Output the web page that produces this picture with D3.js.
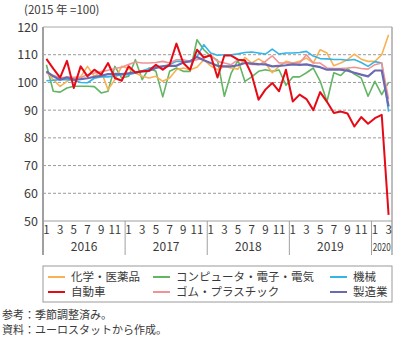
<!DOCTYPE html>
<html><head><meta charset="utf-8">
<script src="https://cdn.jsdelivr.net/npm/d3@7"></script>
<style>
html,body{margin:0;padding:0;background:#fff;}
svg{display:block;font-family:"Noto Sans CJK JP","Noto Sans",sans-serif;}
</style></head>
<body>
<svg id="c" width="402" height="340"></svg>
<script>
// ---- data ----
const years = ["2016","2017","2018","2019","2020"];
const monthsPerYear = [12,12,12,12,3];
const monthTicks = ["1","3","5","7","9","11"];
const yTicks = [50,60,70,80,90,100,110,120];
const seriesNames = ["化学・医薬品","コンピュータ・電子・電気","機械","自動車","ゴム・プラスチック","製造業"];

const chem = [104,101,98.6,100.4,101.8,102,105.8,102.2,104,97.4,101,105.8,
  105,103.4,102.2,101.6,102.2,100.4,101.6,104.6,105.2,104.6,105.5,108.2,
  106,104.6,105.8,105.2,104.8,109,107,108.5,107,103.5,105.8,107.6,
  107,107.6,108.8,107,111.8,110.6,106,107,108.2,110.2,108.4,107.6,
  107.6,110,117.2];
const comp = [106.4,96.8,96.5,98,98.6,98.6,98.6,98.5,96.2,96.8,105.8,101.6,
  102.2,108.2,101,105.2,104,94.8,104,105.2,104,104,115.4,111.8,
  109.4,108,95,103.4,108,100.4,102,104,104.6,104,104.5,99,
  102,102,103.5,105.2,100.5,93.1,103.5,102.5,105,103,101.6,95,
  100.4,95.6,100];
const mach = [100.6,100.8,101,101,100.8,100,99.9,101.5,102,102,102.3,102.8,
  102.8,103.4,104.2,105,105.8,105.8,106.5,107.6,107.6,107.8,109.4,113.6,
  110.6,109.8,110,110,110.3,110.8,111,110.6,110.2,112,110.2,110.6,
  110.6,110.8,111.2,109.5,108.6,108.5,108.3,108.3,108,108.3,107.2,105.8,
  107.5,107,89.5];
const auto = [108.5,105,101.7,107.8,98,105.8,102.2,104.6,102.8,107,101.6,100.6,
  105.8,103.6,104,104.2,106.4,104.6,106.4,114,107,104.6,111.8,109,
  109.8,101.8,109.7,109.7,108.2,108,102.8,93.8,97.4,99.8,96.8,104.6,
  93.1,95.6,94,90,96.5,93,89,89.5,88.8,84.1,87.5,85.1,
  87.1,88.3,52.2];
const rubber = [103.4,102.6,101.6,102,101.8,101.8,102.8,103.4,103.8,104.4,105,105.5,
  106.5,107.4,107,107,107.2,107.6,107,108.2,108.2,107.6,108.2,108.8,
  110,107.6,107,106.4,108.2,107.6,106.5,106.4,107.6,109.6,107,107,
  107,107,110,107,107,105.2,105,105,105.2,105.5,105,104.8,
  106.4,107,94];
const manu = [104,102.2,101,101.8,101,101.2,101.5,102,102.4,103,103.1,103,
  103.3,103.6,104,104.2,105.2,105.8,106,106,107.2,107.6,109.2,108,
  107,106,105.8,105.8,106.2,107,106.8,106.6,106.5,105.8,106,106.2,
  106.5,106.3,106.5,106,105.5,104.6,104.6,104.6,104.2,103.5,102.8,102.2,
  104.3,104.3,91.3];

// ---- build ----
const months = [];
years.forEach((y,k)=>{ for(let m=1;m<=monthsPerYear[k];m++) months.push({year:y, m:m}); });
const idx = months.map((d,i)=>i);

const svg = d3.select("#c");
const L=43, R=392, T=27, B=221;
const x = d3.scalePoint().domain(idx).range([L,R]).padding(0.5);
const step = x.step();
const y = d3.scaleLinear().domain([50,120]).range([B,T]);

const gridColor="#9a9a9a";
svg.append("g").selectAll("line").data(yTicks.filter(v=>v>50 && v<120)).join("line")
  .attr("x1",L).attr("x2",R).attr("y1",d=>y(d)).attr("y2",d=>y(d))
  .attr("stroke",gridColor).attr("stroke-width",1).attr("stroke-dasharray","3,2");
svg.append("line").attr("x1",L).attr("x2",R).attr("y1",y(120)).attr("y2",y(120)).attr("stroke","#a8a8a8");
svg.append("line").attr("x1",R).attr("x2",R).attr("y1",T).attr("y2",255).attr("stroke","#a8a8a8").attr("stroke-width",1.5);
svg.append("line").attr("x1",L).attr("x2",R).attr("y1",B).attr("y2",B).attr("stroke","#a0a0a0");
svg.append("line").attr("x1",L).attr("x2",L).attr("y1",T).attr("y2",255).attr("stroke","#a0a0a0").attr("stroke-width",2);

svg.append("g").selectAll("text").data(yTicks).join("text")
  .attr("x",38).attr("y",d=>y(d)).attr("dy","0.36em").attr("text-anchor","end")
  .attr("font-size",12.5).attr("fill","#3a3a3a").text(d=>d);
svg.append("text").attr("x",24).attr("y",14).attr("font-size",11.5).attr("fill","#3a3a3a").text("(2015 年 =100)");

let start=0;
const yearPos=[];
years.forEach((yr,k)=>{
  const x0 = x(start)-step/2, x1 = x(start+monthsPerYear[k]-1)+step/2;
  yearPos.push({yr, x0, x1, n:monthsPerYear[k]});
  start += monthsPerYear[k];
});
svg.append("g").selectAll("line").data(yearPos.slice(1)).join("line")
  .attr("x1",d=>d.x0).attr("x2",d=>d.x0).attr("y1",B).attr("y2",255)
  .attr("stroke","#a0a0a0").attr("stroke-width",1);
svg.append("g").selectAll("text").data(months.map((d,i)=>({d,i})).filter(o=>monthTicks.includes(String(o.d.m)))).join("text")
  .attr("x",o=>x(o.i)).attr("y",234).attr("text-anchor","middle")
  .attr("font-size",11.5).attr("fill","#3a3a3a").text(o=>String(o.d.m));
svg.append("g").selectAll("text").data(yearPos).join("text")
  .attr("x",d=>(d.x0+d.x1)/2).attr("y",251).attr("text-anchor","middle")
  .attr("font-size",12).attr("fill","#3a3a3a")
  .each(function(d){ if(d.n<12){ d3.select(this).attr("font-size",10.5).attr("textLength",18).attr("lengthAdjust","spacingAndGlyphs"); } })
  .text(d=>d.yr);

const colors = ["#F8B253","#62B562","#35B4E6","#E60A17","#F19394","#6A6AB2"];
const data = [chem,comp,mach,auto,rubber,manu];
const widths = [1.6,1.6,1.6,2,1.6,2.2];
const order = [1,0,2,4,5,3];
const line = d3.line().x((v,i)=>x(i)).y(v=>y(v));
svg.append("g").selectAll("path").data(order).join("path")
  .attr("d",k=>line(data[k])).attr("fill","none")
  .attr("stroke",k=>colors[k]).attr("stroke-width",k=>widths[k]).attr("stroke-linejoin","round");

svg.append("rect").attr("x",L).attr("y",266).attr("width",R-L).attr("height",36)
  .attr("fill","#fff").attr("stroke","#9a9a9a");
const legPos = [[48,277],[153,277],[330,277],[48,292],[153,292],[330,292]];
const lg = svg.append("g").selectAll("g").data(seriesNames.map((n,k)=>({n,k}))).join("g")
  .attr("transform",d=>`translate(${legPos[d.k][0]},${legPos[d.k][1]})`);
lg.append("line").attr("x1",0).attr("x2",17).attr("y1",0).attr("y2",0)
  .attr("stroke",d=>colors[d.k]).attr("stroke-width",2);
lg.append("text").attr("x",23).attr("y",0).attr("dy","0.36em").attr("font-size",11.5).attr("fill","#3a3a3a").text(d=>d.n);

svg.append("text").attr("x",2).attr("y",319).attr("font-size",11).attr("fill","#3a3a3a").text("参考：季節調整済み。");
svg.append("text").attr("x",2).attr("y",334).attr("font-size",11).attr("fill","#3a3a3a").text("資料：ユーロスタットから作成。");
</script>
</body></html>
